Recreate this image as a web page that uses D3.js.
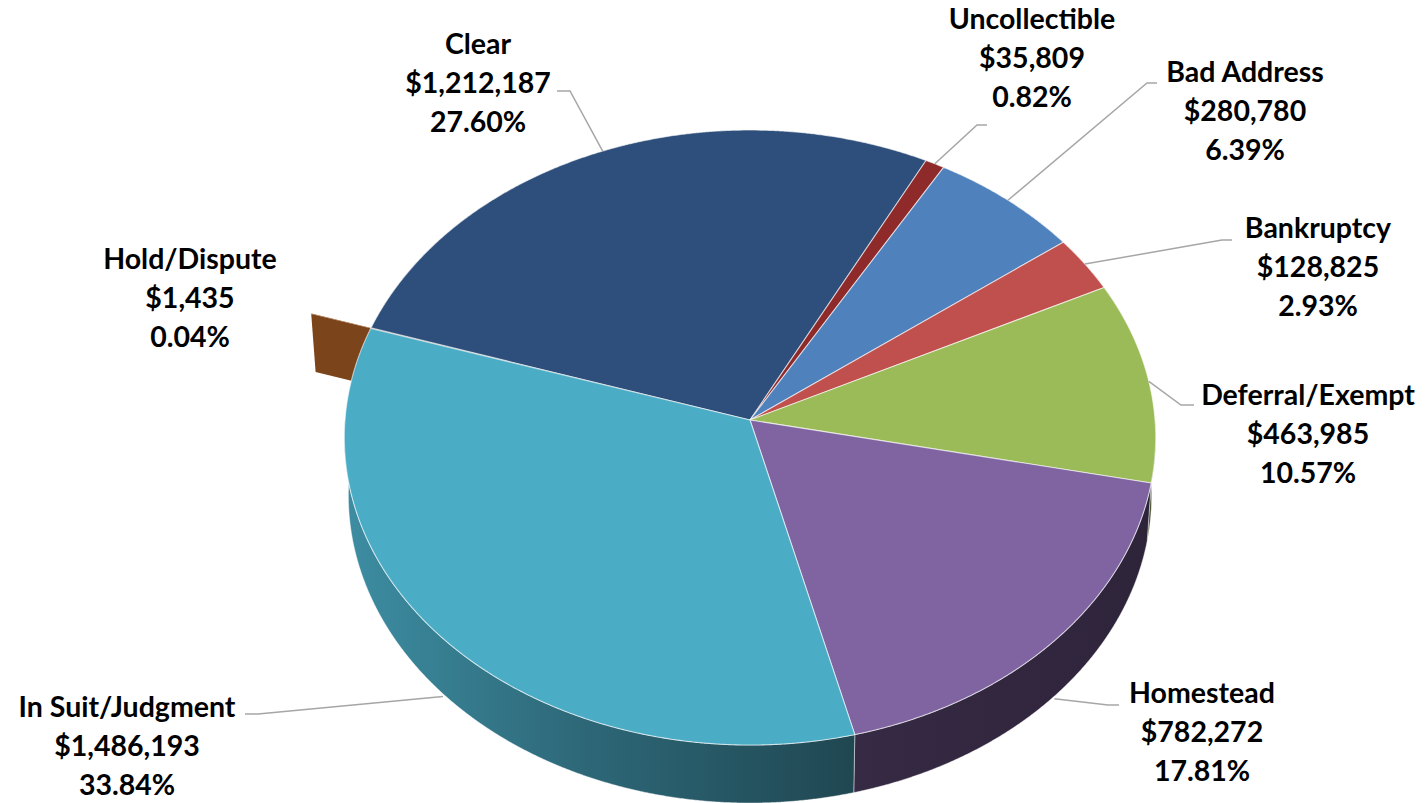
<!DOCTYPE html>
<html>
<head>
<meta charset="utf-8">
<script src="https://cdn.jsdelivr.net/npm/d3@7"></script>
<style>
  html, body { margin: 0; padding: 0; background: #ffffff; }
  svg { display: block; }
</style>
</head>
<body>
<svg id="chart" width="1427" height="803"></svg>
<script>
// Delinquent balances by account status
const categories = ["Clear", "Uncollectible", "Bad Address", "Bankruptcy",
                    "Deferral/Exempt", "Homestead", "In Suit/Judgment", "Hold/Dispute"];
const amounts = [1212187, 35809, 280780, 128825, 463985, 782272, 1486193, 1435];
const percentLabels = ["27.60%", "0.82%", "6.39%", "2.93%", "10.57%", "17.81%", "33.84%", "0.04%"];
const colors = ["#2e4f7b", "#8e2a2a", "#4f81bd", "#c0504d",
                "#9bbb59", "#8064a2", "#4bacc6", "#9a5522"];
const explodedCategory = "Hold/Dispute";

// Geometry of the tilted pie
const cx = 750, cy = 420;          // pie centre on screen
const rx = 405, ry = 306.5;        // projected radii
const k = 0.057;                   // perspective strength (far side compressed)
const depth = 58;                  // thickness of the disc
const bottomScale = 0.99;          // slight convergence of the lower rim
const explodeDist = 0.16;          // explosion offset as a fraction of the radius
const startDeg = -72.2;

const svg = d3.select("#chart");
const defs = svg.append("defs");

// project normalised disc coordinates (s = sin-axis, c = depth-axis) to the screen
function proj(s, c, bottom) {
  const D = 1 + k * c;
  let x = cx + rx * s / D;
  let y = cy - ry * c / D;
  if (bottom) { x = cx + (x - cx) * bottomScale; y += depth; }
  return [x, y];
}

function rim(a0, a1, off, bottom) {
  const n = Math.max(2, Math.ceil(Math.abs(a1 - a0) / 0.004));
  const pts = [];
  for (let i = 0; i <= n; i++) {
    const a = a0 + (a1 - a0) * i / n;
    pts.push(proj(Math.sin(a) + off[0], Math.cos(a) + off[1], bottom));
  }
  return pts;
}

const line = d3.line();
const pie = d3.pie().sort(null).value(d => d)
  .startAngle(startDeg * Math.PI / 180)
  .endAngle(startDeg * Math.PI / 180 + 2 * Math.PI);
const arcs = pie(amounts).map((d, i) => ({
  ...d, name: categories[i], color: colors[i], pct: percentLabels[i],
  exploded: categories[i] === explodedCategory
}));

function shade(color, m) {
  const c = d3.rgb(color);
  return d3.rgb(c.r * m, c.g * m, c.b * m).formatHex();
}

// side-wall gradient: lighter on the left, darkest towards the front/right
arcs.forEach((d, i) => {
  const g = defs.append("linearGradient")
    .attr("id", "wall" + i)
    .attr("gradientUnits", "userSpaceOnUse")
    .attr("x1", cx - rx).attr("x2", cx + rx).attr("y1", 0).attr("y2", 0);
  [[0, 0.82], [0.3, 0.6], [0.62, 0.42], [1, 0.36]].forEach(([o, m]) =>
    g.append("stop").attr("offset", o).attr("stop-color", shade(d.color, m)));
});

const offsetOf = d => {
  if (!d.exploded) return [0, 0];
  const mid = (d.startAngle + d.endAngle) / 2;
  return [Math.sin(mid) * explodeDist, Math.cos(mid) * explodeDist];
};

// exploded slice (sits behind the disc)
const gExpl = svg.append("g");
arcs.filter(d => d.exploded).forEach(d => {
  const off = offsetOf(d);
  const a = d.startAngle;
  const cTop = proj(off[0], off[1], false);
  const rTop = proj(Math.sin(a) + off[0], Math.cos(a) + off[1], false);
  const rBot = proj(Math.sin(a) + off[0], Math.cos(a) + off[1], true);
  const cBot = proj(off[0], off[1], true);
  gExpl.append("path")
    .attr("d", line([cTop, rTop, rBot, cBot]) + "Z")
    .attr("fill", shade(d.color, 0.8));
  gExpl.append("path")
    .attr("d", line([cTop, ...rim(d.startAngle, d.endAngle, off, false)]) + "Z")
    .attr("fill", d.color);
});

// outer walls on the front half of the disc
const gWalls = svg.append("g");
arcs.filter(d => !d.exploded).forEach(d => {
  const a0 = Math.max(d.startAngle, Math.PI / 2);
  const a1 = Math.min(d.endAngle, 3 * Math.PI / 2);
  if (a1 <= a0) return;
  const top = rim(a0, a1, [0, 0], false);
  const bot = rim(a0, a1, [0, 0], true).reverse();
  gWalls.append("path")
    .attr("d", line([...top, ...bot]) + "Z")
    .attr("fill", `url(#wall${d.index})`)
    .attr("stroke", "rgba(255,255,255,0.55)")
    .attr("stroke-width", 0.8);
});

// top faces
const gTop = svg.append("g");
arcs.filter(d => !d.exploded).forEach(d => {
  const pts = [proj(0, 0, false), ...rim(d.startAngle, d.endAngle, [0, 0], false)];
  gTop.append("path")
    .attr("d", line(pts) + "Z")
    .attr("fill", d.color)
    .attr("stroke", "rgba(255,255,255,0.6)")
    .attr("stroke-width", 1.1)
    .attr("stroke-linejoin", "round");
});

// data labels
const labelLayout = {
  "Clear":            { x: 478,  y: 54,  leader: [[557, 91], [570, 91]] },
  "Uncollectible":    { x: 1032, y: 29,  leader: [[987, 125], [977, 125]] },
  "Bad Address":      { x: 1245, y: 82,  leader: [[1157, 83], [1147, 83]] },
  "Bankruptcy":       { x: 1318, y: 238, leader: [[1232, 240], [1222, 240]] },
  "Deferral/Exempt":  { x: 1308, y: 405, leader: [[1194, 405], [1181, 405]] },
  "Homestead":        { x: 1202, y: 703, leader: [[1119, 705], [1108, 705]] },
  "In Suit/Judgment": { x: 127,  y: 717, leader: [[245, 714], [258, 714]] },
  "Hold/Dispute":     { x: 190,  y: 269, leader: null }
};
const lineGap = 38.8;
const money = d3.format("$,");

const gLead = svg.append("g")
  .attr("fill", "none").attr("stroke", "#a6a6a6").attr("stroke-width", 1.5);
const gLab = svg.append("g")
  .attr("font-family", "Lato, 'Open Sans', sans-serif")
  .attr("font-weight", 700)
  .attr("font-size", 28.5)
  .attr("fill", "#000")
  .attr("text-anchor", "middle");

arcs.forEach(d => {
  const L = labelLayout[d.name];
  if (L.leader) {
    const mid = (d.startAngle + d.endAngle) / 2;
    let anchor = proj(Math.sin(mid), Math.cos(mid), false);
    if (Math.cos(mid) < 0) anchor = [anchor[0], anchor[1] + depth];
    gLead.append("path").attr("d", line([...L.leader, anchor]));
  }
  [d.name, money(d.data), d.pct].forEach((t, j) => {
    gLab.append("text")
      .attr("x", L.x).attr("y", L.y + j * lineGap)
      .text(t);
  });
});
</script>
</body>
</html>
